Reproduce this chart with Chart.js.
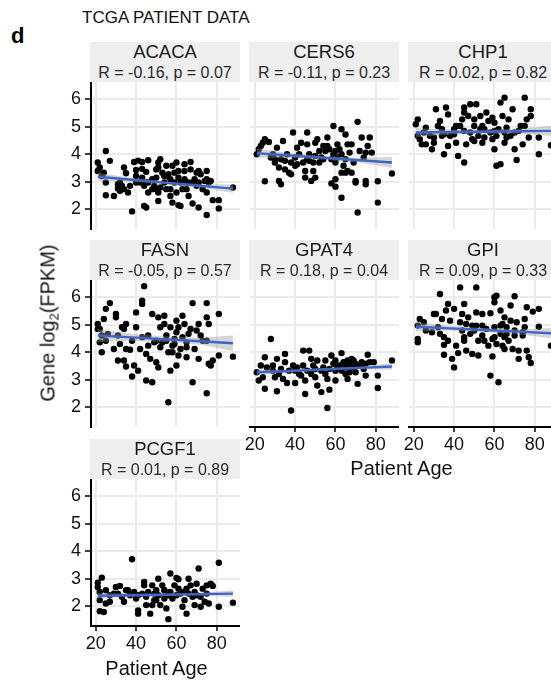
<!DOCTYPE html>
<html>
<head>
<meta charset="utf-8">
<script src="https://cdn.jsdelivr.net/npm/chart.js@4.4.0/dist/chart.umd.min.js"></script>
<style>
  body { margin: 0; width: 551px; height: 684px; overflow: hidden; background: #fff; position: relative;
         font-family: "Liberation Sans", Arial, sans-serif; }
  canvas { position: absolute; }
  .txt { position: absolute; white-space: nowrap; line-height: 1; color: #1a1a1a; }
  .strip { position: absolute; background: #eeeeee; }
</style>
</head>
<body>
<script>
// facet names and stats
const genes = ["ACACA", "CERS6", "CHP1", "FASN", "GPAT4", "GPI", "PCGF1"];
const rValues = ["-0.16", "-0.11", "0.02", "-0.05", "0.18", "0.09", "0.01"];
const pValues = ["0.07", "0.23", "0.82", "0.57", "0.04", "0.33", "0.89"];
const xTicks = [20, 40, 60, 80];
const yTicks = [2, 3, 4, 5, 6];
const fitAges = [21, 38, 55, 72, 88];

// [age, log2 FPKM]
const acaca = [[25,4.12],[21,3.70],[21,3.39],[27,3.76],[22,3.52],[24,3.33],[25,2.97],[25,2.51],[29,2.48],[31,2.75],[32,2.67],[34,3.52],[35,3.31],[33,2.85],[36,2.61],[37,2.85],[38,1.92],[39,3.72],[41,3.77],[43,3.72],[40,3.43],[40,3.21],[42,2.97],[43,3.47],[45,3.36],[46,3.78],[45,2.97],[44,2.85],[46,2.61],[45,2.06],[44,2.12],[48,3.09],[49,2.85],[50,3.15],[51,3.52],[51,3.70],[52,3.82],[51,2.30],[51,2.61],[53,3.33],[54,2.97],[55,3.58],[55,3.21],[56,3.27],[57,2.73],[57,2.48],[58,2.24],[59,2.97],[59,3.33],[60,3.70],[61,3.39],[61,3.15],[60,2.61],[61,2.15],[62,2.12],[64,3.64],[64,3.39],[65,2.97],[63,2.73],[65,2.73],[66,2.48],[67,3.72],[67,3.45],[68,2.97],[68,2.21],[69,3.09],[70,2.85],[71,3.39],[72,3.27],[71,2.06],[73,2.73],[75,3.39],[75,3.09],[75,2.61],[74,3.03],[76,2.97],[77,3.03],[75,1.79],[78,2.33],[81,2.33],[81,2.03],[88,2.79],[23,3.21],[31,2.91],[32,2.97],[34,2.73],[40,2.97],[48,2.73],[50,3.45],[54,3.21],[57,3.09],[58,3.58],[62,2.97],[64,3.09],[66,2.97],[70,3.33],[71,2.97],[50,2.73],[52,2.79],[55,2.73],[46,2.97],[43,3.15]];
const cers6 = [[21,4.00],[23,4.30],[24,4.42],[25,4.55],[27,4.45],[22,4.18],[25,3.02],[28,3.88],[30,3.70],[31,4.24],[32,3.52],[32,3.03],[33,2.91],[34,4.48],[35,3.76],[35,3.45],[36,4.00],[37,3.33],[38,3.27],[39,4.79],[40,3.88],[40,3.58],[41,4.24],[42,4.00],[43,4.42],[44,3.70],[45,3.39],[45,3.15],[46,4.79],[46,4.36],[47,3.76],[48,3.03],[49,3.39],[50,3.15],[50,4.42],[51,4.55],[52,4.12],[52,3.70],[53,3.88],[54,4.30],[55,4.12],[56,4.61],[57,4.18],[58,2.94],[59,4.00],[59,5.03],[60,3.70],[60,3.09],[60,2.82],[61,4.36],[62,4.18],[63,4.00],[63,4.91],[63,2.42],[65,3.33],[65,4.72],[65,3.82],[66,3.39],[67,4.06],[68,4.36],[69,3.70],[70,2.97],[70,3.03],[71,5.18],[71,1.88],[72,4.12],[73,4.61],[74,3.88],[75,3.03],[75,4.06],[76,4.30],[77,4.61],[78,4.06],[75,2.91],[81,3.02],[81,2.24],[88,3.30],[50,3.94],[54,3.82],[56,4.30],[58,3.82],[61,3.88],[64,3.58],[66,4.36],[60,4.12],[38,3.70],[41,3.64],[33,3.82],[29,4.00],[30,3.82],[47,4.00],[46,3.82],[49,3.70],[68,3.33],[63,3.33]];
const chp1 = [[22,5.27],[21,5.09],[22,4.67],[23,4.55],[24,4.36],[25,4.79],[26,4.36],[29,4.18],[30,4.42],[31,5.64],[32,5.03],[33,5.21],[34,4.67],[34,4.91],[35,4.00],[36,5.70],[37,5.45],[37,4.30],[40,4.91],[40,4.73],[41,4.42],[42,3.94],[43,5.03],[44,5.27],[45,3.70],[45,5.52],[45,5.70],[46,4.36],[47,5.39],[48,5.82],[49,4.55],[50,5.27],[50,5.03],[51,5.82],[52,4.67],[53,5.39],[54,4.42],[55,4.91],[56,5.52],[57,5.21],[58,4.79],[59,4.55],[60,5.15],[60,4.18],[61,3.58],[62,4.91],[63,5.88],[63,3.64],[64,5.39],[65,6.06],[65,4.42],[66,4.97],[67,5.27],[68,4.67],[69,5.64],[70,4.18],[71,3.79],[72,4.85],[74,4.36],[75,5.03],[75,6.06],[76,5.27],[77,4.61],[78,5.64],[78,5.39],[82,4.61],[82,4.00],[88,4.33],[26,4.97],[28,4.67],[30,4.61],[38,4.67],[41,5.03],[45,4.85],[48,4.79],[50,4.48],[53,4.91],[55,4.61],[59,5.33],[61,4.67],[65,4.79],[66,4.61],[70,4.79],[73,5.03],[54,5.03],[60,4.85],[35,4.73]];
const fasn = [[44,6.40],[43,5.88],[43,5.76],[27,5.79],[25,5.58],[24,5.21],[21,5.03],[22,4.85],[21,4.85],[23,4.61],[22,4.36],[23,4.00],[25,4.42],[29,4.12],[30,5.39],[30,5.27],[31,4.61],[32,4.30],[31,3.70],[33,4.91],[34,4.85],[35,5.03],[34,3.70],[35,3.48],[37,4.09],[38,3.12],[39,3.52],[40,5.45],[40,4.91],[41,3.33],[42,4.12],[43,4.55],[45,2.97],[45,3.94],[46,4.61],[47,3.76],[48,5.39],[48,2.91],[49,4.36],[50,3.64],[51,5.27],[51,3.45],[52,4.91],[54,5.33],[53,4.36],[55,4.61],[54,5.03],[56,2.18],[56,4.00],[57,3.33],[57,4.91],[58,4.24],[59,4.48],[60,5.15],[60,4.73],[60,3.52],[61,3.88],[62,4.12],[63,5.33],[64,5.03],[65,4.36],[65,3.82],[66,4.67],[67,4.85],[68,5.79],[68,2.91],[69,4.12],[70,4.79],[71,5.03],[71,3.76],[72,4.61],[73,4.42],[75,5.79],[75,2.51],[75,5.27],[76,5.03],[76,3.58],[77,3.52],[78,3.70],[75,4.42],[81,5.39],[81,3.88],[88,3.84],[50,4.42],[46,4.24],[55,4.42],[59,4.30],[63,4.55],[65,4.18],[38,4.42],[26,4.67],[35,4.12],[52,4.18],[58,4.00],[61,4.91]];
const gpat4 = [[28,4.48],[25,3.82],[23,3.52],[21,3.27],[22,2.97],[24,3.09],[25,2.67],[29,3.52],[30,3.09],[31,3.76],[31,2.58],[33,3.39],[34,3.03],[35,3.64],[35,3.94],[36,2.88],[38,1.88],[39,3.52],[40,2.88],[40,3.33],[42,3.21],[44,3.52],[44,4.06],[45,2.48],[45,2.97],[47,4.06],[48,3.76],[49,3.52],[50,3.09],[51,3.70],[51,2.79],[53,2.55],[54,3.45],[55,3.70],[56,1.97],[56,3.03],[57,2.64],[58,3.88],[59,3.58],[60,3.33],[60,3.70],[60,2.97],[62,3.52],[63,3.97],[64,3.64],[65,3.21],[66,3.03],[67,3.58],[68,3.76],[69,3.70],[70,3.27],[71,2.85],[72,3.52],[73,3.64],[74,3.39],[75,3.15],[76,3.91],[77,3.64],[79,3.64],[81,3.15],[81,2.70],[88,3.70],[26,3.45],[37,3.33],[41,3.45],[46,3.33],[50,3.39],[53,3.33],[57,3.39],[61,3.45],[63,3.33],[65,3.52],[66,3.70],[69,3.45],[70,3.58],[75,3.58],[55,3.21],[48,3.21],[43,3.15],[32,3.21],[29,3.33],[65,3.45],[67,3.27]];
const gpi = [[33,6.12],[43,6.36],[51,6.36],[60,6.00],[61,6.06],[70,6.04],[37,5.76],[36,5.52],[45,5.76],[40,5.58],[60,5.82],[68,5.70],[76,5.64],[79,5.48],[82,5.58],[30,5.39],[31,5.39],[34,5.21],[38,5.15],[44,5.39],[47,5.27],[51,5.45],[54,5.39],[58,5.42],[63,5.52],[65,5.27],[68,5.15],[75,5.21],[23,5.21],[25,5.09],[22,4.97],[26,4.79],[32,4.91],[33,4.67],[35,4.55],[35,4.27],[35,3.91],[39,3.76],[40,3.45],[41,4.24],[42,3.97],[43,5.09],[45,4.55],[46,4.06],[46,5.03],[48,4.67],[49,3.94],[50,4.79],[52,3.88],[52,4.42],[54,4.97],[55,4.42],[57,4.24],[58,3.15],[59,3.85],[60,4.55],[61,4.30],[62,2.91],[63,4.67],[64,4.24],[65,4.12],[66,4.91],[67,4.42],[69,4.12],[70,4.79],[71,5.09],[72,4.06],[72,3.76],[74,4.61],[75,4.91],[76,4.06],[77,3.82],[78,3.61],[82,4.93],[22,4.48],[22,4.36],[88,4.24],[29,4.73],[37,4.42],[45,4.42],[49,4.97],[51,4.97],[56,4.85],[60,4.91],[59,4.48],[63,4.97],[66,4.67],[70,4.61],[74,4.73],[54,4.61],[64,5.03],[65,4.55],[44,4.79]];
const pcgf1 = [[38,3.71],[81,3.58],[71,3.37],[23,3.04],[21,2.86],[21,2.70],[22,2.52],[22,2.22],[22,1.82],[24,1.79],[25,2.58],[25,2.10],[27,2.16],[27,2.40],[30,2.70],[32,2.74],[33,2.34],[34,2.16],[35,2.58],[36,2.58],[39,2.52],[40,2.28],[41,1.85],[41,1.73],[41,2.40],[44,2.88],[44,2.76],[45,2.04],[46,2.52],[47,1.73],[48,2.76],[49,2.22],[50,2.58],[51,3.00],[51,2.40],[52,2.04],[53,2.76],[54,2.28],[55,1.92],[56,1.53],[57,3.19],[57,2.52],[58,2.28],[59,2.76],[60,3.03],[61,2.98],[62,2.46],[63,1.98],[64,2.22],[65,2.64],[65,1.73],[66,3.00],[67,2.76],[68,2.34],[69,2.04],[70,2.82],[70,2.40],[72,1.98],[73,2.64],[75,2.46],[75,2.76],[77,2.82],[78,2.74],[76,2.10],[81,1.98],[88,2.13],[29,2.46],[31,2.46],[37,2.40],[43,2.46],[45,2.34],[49,2.46],[50,2.22],[54,2.58],[56,2.40],[60,2.40],[61,2.64],[63,2.52],[66,2.46],[69,2.52],[72,2.34],[74,2.16],[48,2.04],[54,2.58]];

// lm fit line and 95% band, read at fitAges
const acacaFit = [3.18, 3.07, 2.96, 2.85, 2.75], acacaHi = [3.33, 3.14, 3.01, 2.92, 2.90], acacaLo = [3.03, 3.00, 2.91, 2.78, 2.60];
const cers6Fit = [4.04, 3.95, 3.87, 3.78, 3.70], cers6Hi = [4.21, 4.04, 3.94, 3.87, 3.90], cers6Lo = [3.87, 3.86, 3.80, 3.69, 3.50];
const chp1Fit = [4.79, 4.81, 4.82, 4.84, 4.85], chp1Hi = [4.96, 4.90, 4.89, 4.93, 5.03], chp1Lo = [4.62, 4.72, 4.75, 4.75, 4.67];
const fasnFit = [4.61, 4.54, 4.47, 4.40, 4.33], fasnHi = [4.85, 4.67, 4.57, 4.53, 4.61], fasnLo = [4.37, 4.41, 4.37, 4.27, 4.05];
const gpat4Fit = [3.27, 3.32, 3.38, 3.43, 3.48], gpat4Hi = [3.37, 3.37, 3.42, 3.48, 3.60], gpat4Lo = [3.17, 3.27, 3.34, 3.38, 3.36];
const gpiFit = [4.93, 4.87, 4.81, 4.75, 4.69], gpiHi = [5.10, 4.96, 4.88, 4.84, 4.88], gpiLo = [4.76, 4.78, 4.74, 4.66, 4.50];
const pcgf1Fit = [2.38, 2.40, 2.42, 2.44, 2.46], pcgf1Hi = [2.48, 2.45, 2.46, 2.49, 2.58], pcgf1Lo = [2.28, 2.35, 2.38, 2.39, 2.34];

const panelData = [
  [acaca, acacaFit, acacaHi, acacaLo],
  [cers6, cers6Fit, cers6Hi, cers6Lo],
  [chp1, chp1Fit, chp1Hi, chp1Lo],
  [fasn, fasnFit, fasnHi, fasnLo],
  [gpat4, gpat4Fit, gpat4Hi, gpat4Lo],
  [gpi, gpiFit, gpiHi, gpiLo],
  [pcgf1, pcgf1Fit, pcgf1Hi, pcgf1Lo]
];

// layout (px)
const colLeft = [91, 250, 409];
const rowTop = [82, 280, 479];
const PW = 149, PH = 147, AXW = 50, AXH = 50;
const FONT = '"Liberation Sans", Arial, sans-serif';

function addText(html, x, y, size, opts) {
  opts = opts || {};
  const d = document.createElement('div');
  d.className = 'txt';
  d.innerHTML = html;
  d.style.left = x + 'px';
  d.style.top = y + 'px';
  d.style.fontSize = size + 'px';
  if (opts.bold) d.style.fontWeight = 'bold';
  if (opts.color) d.style.color = opts.color;
  d.style.transform = opts.transform || 'translate(-50%, -50%)';
  document.body.appendChild(d);
  return d;
}

const pts = arr => arr.map(p => ({ x: p[0], y: p[1] }));
const line = ys => fitAges.map((a, k) => ({ x: a, y: ys[k] }));

// keep the plot area fixed: no label overflow padding
function fixBox(sc, w, h) {
  if (w) sc.width = w;
  if (h) sc.height = h;
  sc.paddingTop = 0; sc.paddingBottom = 0; sc.paddingLeft = 0; sc.paddingRight = 0;
}

function makePanel(i) {
  const [points, fit, hi, lo] = panelData[i];
  const col = i % 3, row = Math.floor(i / 3);
  const left = colLeft[col], top = rowTop[row];
  const showY = col === 0;
  const showX = row === 2 || (row === 1 && col > 0);

  // strip
  const s = document.createElement('div');
  s.className = 'strip';
  s.style.left = (left - 1) + 'px';
  s.style.top = (top - 40) + 'px';
  s.style.width = (PW + 1) + 'px';
  s.style.height = '40px';
  document.body.appendChild(s);
  addText(genes[i], left + 74, top - 30, 18.5);
  addText('R = ' + rValues[i] + ', p = ' + pValues[i], left + 74, top - 9.5, 16, { color: '#2b2b2b' });

  const cv = document.createElement('canvas');
  cv.width = AXW + PW;
  cv.height = PH + AXH;
  cv.style.left = (left - AXW) + 'px';
  cv.style.top = top + 'px';
  document.body.appendChild(cv);

  new Chart(cv, {
    type: 'scatter',
    data: {
      datasets: [
        { data: line(fit), showLine: true, borderColor: '#3f66c6', borderWidth: 2.4, pointRadius: 0, order: 1 },
        { data: line(hi), showLine: true, borderColor: 'rgba(0,0,0,0)', pointRadius: 0,
          fill: '+1', backgroundColor: 'rgba(153,153,153,0.4)', order: 2 },
        { data: line(lo), showLine: true, borderColor: 'rgba(0,0,0,0)', pointRadius: 0, order: 2 },
        { data: pts(points), pointRadius: 3.2, backgroundColor: '#000', borderWidth: 0, order: 3 }
      ]
    },
    options: {
      responsive: false,
      animation: false,
      events: [],
      layout: { padding: 0, autoPadding: false },
      plugins: { legend: { display: false }, tooltip: { enabled: false } },
      scales: {
        x: {
          type: 'linear', min: 17.65, max: 91.5,
          afterBuildTicks: sc => { sc.ticks = xTicks.map(v => ({ value: v })); },
          afterFit: sc => fixBox(sc, 0, AXH),
          grid: { color: '#ebebeb', lineWidth: 2, drawTicks: showX, tickLength: 5, tickColor: '#000', tickWidth: 1.5 },
          border: { display: showX, color: '#000', width: 2 },
          ticks: { display: showX, color: '#111', font: { size: 18, family: FONT }, padding: 2, maxRotation: 0 }
        },
        y: {
          type: 'linear', min: 1.28, max: 6.63,
          afterBuildTicks: sc => { sc.ticks = yTicks.map(v => ({ value: v })); },
          afterFit: sc => fixBox(sc, AXW, 0),
          grid: { color: '#ebebeb', lineWidth: 2, drawTicks: showY, tickLength: 6, tickColor: '#000', tickWidth: 1.5 },
          border: { display: showY, color: '#000', width: 2 },
          ticks: { display: showY, color: '#111', font: { size: 18, family: FONT }, padding: 4 }
        }
      }
    }
  });
}

for (let i = 0; i < genes.length; i++) makePanel(i);

addText('d', 11, 36, 22, { bold: true, color: '#000', transform: 'translate(0, -50%)' });
addText('TCGA PATIENT DATA', 82, 17, 17, { color: '#111', transform: 'translate(0, -50%)' });
addText('Patient Age', 401.5, 468, 20, { color: '#111' });
addText('Patient Age', 156.5, 667.5, 20, { color: '#111' });
addText('Gene log<sub style="font-size:13px;vertical-align:-4px">2</sub>(FPKM)', 49, 323, 20,
  { color: '#111', transform: 'translate(-50%, -50%) rotate(-90deg)' });
</script>
</body>
</html>
